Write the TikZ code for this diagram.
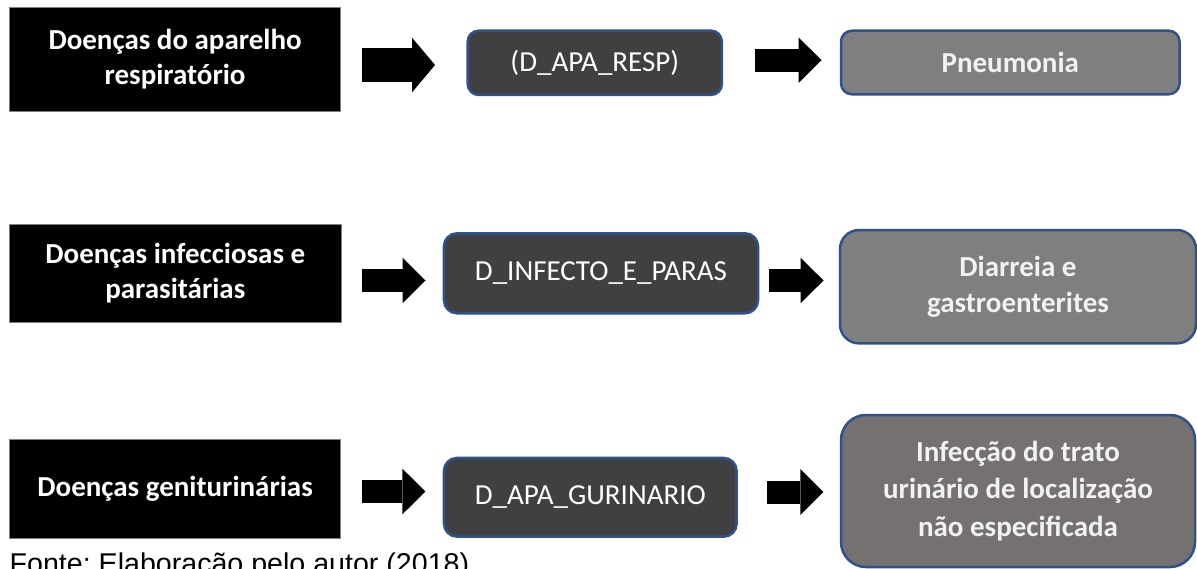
\documentclass[tikz,border=0pt]{standalone}
\usepackage{fontspec}
\setmainfont{Carlito}
\newfontfamily\arialfont{Liberation Sans}
\usepackage{tikz}
\usetikzlibrary{positioning,arrows.meta}
\frenchspacing
\definecolor{CodeGray}{HTML}{404040}
\definecolor{BoxBlue}{HTML}{2F528F}
\definecolor{MidGray}{HTML}{7F7F7F}
\definecolor{WarmGray}{HTML}{767171}
\tikzstyle{CatNode}=[rectangle, fill=black, draw=gray, line width=0.8pt, text=white, font=\fontsize{29}{35}\selectfont\bfseries, align=center, inner sep=0pt]
\tikzstyle{CodeNode}=[rectangle, rounded corners=11pt, fill=CodeGray, draw=BoxBlue, line width=2.5pt, text=white, font=\fontsize{29}{35}\selectfont, align=center, inner sep=0pt]
\tikzstyle{DiseaseNode}=[rectangle, rounded corners=11pt, fill=MidGray, draw=BoxBlue, line width=2.5pt, text=white!95!black, font=\fontsize{29}{37.5}\selectfont\bfseries, align=center, inner sep=0pt]
\tikzstyle{BlockArrow}=[line width=23pt, -{Triangle[length=23pt, width=45.6pt, line width=0pt]}]

\begin{document}
\begin{tikzpicture}[x=1pt, y=-1pt]
      \useasboundingbox (0,0) rectangle (1197,569);
      \node[CatNode, minimum width=331pt, minimum height=104.4pt] (1) at (175.1,59.5) {Doenças do aparelho\\respiratório};
      \node[CodeNode, minimum width=254.2pt, minimum height=64.3pt] (2) at (594.8,62.8) {(D\_APA\_RESP)};
      \node[DiseaseNode, minimum width=338.6pt, minimum height=63.6pt] (3) at (1010.3,62.5) {Pneumonia};
      \node[CatNode, minimum width=331.4pt, minimum height=98.7pt] (4) at (175.3,273.3) {Doenças infecciosas e\\parasitárias};
      \node[CodeNode, rounded corners=13pt, minimum width=314.1pt, minimum height=80pt] (5) at (601,273.3) {D\_INFECTO\_E\_PARAS};
      \node[DiseaseNode, rounded corners=19pt, font=\fontsize{29}{36.7}\selectfont\bfseries, minimum width=356pt, minimum height=113.3pt] (6) at (1018,286.7) {Diarreia e\\gastroenterites};
      \node[CatNode, minimum width=331pt, minimum height=98.7pt] (7) at (175.1,488.7) {Doenças geniturinárias};
      \node[CodeNode, rounded corners=13pt, minimum width=292.7pt, minimum height=78.7pt] (8) at (590.3,497.3) {D\_APA\_GURINARIO};
      \node[DiseaseNode, rounded corners=25pt, fill=WarmGray, minimum width=354pt, minimum height=152pt] (9) at (1018,491) {Infecção do trato\\urinário de localização\\não especificada};
      \node[anchor=base west, inner sep=0pt, font=\arialfont\fontsize{28.6}{34}\selectfont] (10) at (9.5,573.5) {Fonte: Elaboração pelo autor (2018)};
      \draw[BlockArrow, line width=34.3pt, -{Triangle[length=23pt, width=54.6pt, line width=0pt]}] ([xshift=21pt,yshift=-5.5pt]1.east) -- ([xshift=-31.4pt,yshift=-5.5pt]1.east -| 2.west);
      \draw[BlockArrow] ([xshift=31.6pt,yshift=2.6pt]2.east) -- ([xshift=-18.2pt,yshift=2.6pt]2.east -| 3.west);
      \draw[BlockArrow] ([xshift=20.6pt,yshift=-7.2pt]4.east) -- ([xshift=-17.2pt,yshift=-7.2pt]4.east -| 5.west);
      \draw[BlockArrow] ([xshift=9.6pt,yshift=-7.2pt]5.east) -- ([xshift=-15.2pt,yshift=-7.2pt]5.east -| 6.west);
      \draw[BlockArrow] ([xshift=21pt,yshift=-2.8pt]7.east) -- ([xshift=-17.3pt,yshift=-2.8pt]7.east -| 8.west);
      \draw[BlockArrow] ([xshift=28.9pt,yshift=5.3pt]8.east) -- ([xshift=-16.3pt,yshift=5.3pt]8.east -| 9.west);
    \end{tikzpicture}
\end{document}
